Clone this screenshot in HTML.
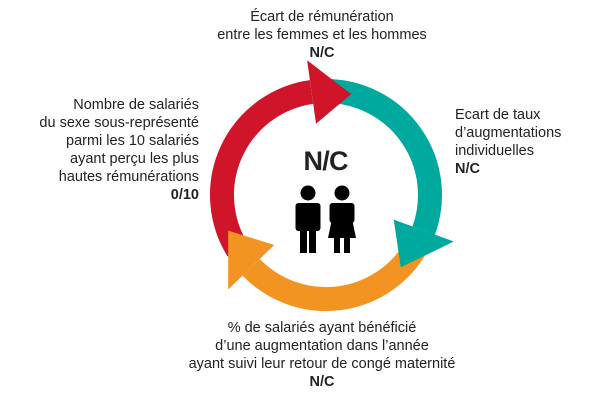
<!DOCTYPE html>
<html><head><meta charset="utf-8"><style>
body{margin:0;width:600px;height:400px;background:#fff;overflow:hidden;position:relative;font-family:"Liberation Sans","DejaVu Sans",sans-serif;color:#222;}
.t{position:absolute;font-size:14.5px;line-height:18px;}
b{font-weight:bold;}
</style></head><body>
<svg width="600" height="400" style="position:absolute;left:0;top:0">
<g fill="none" stroke-width="24">
<path d="M326 91 A104 104 0 0 1 423.7 230.6" stroke="#00a99d"/>
<path d="M416.1 247 A104 104 0 0 1 251.2 267.3" stroke="#f39321"/>
<path d="M237.8 250.1 A104 104 0 0 1 311.5 92" stroke="#d0142a"/>
</g>
<polygon points="316,123.7 307.1,60.3 351.2,94.1" fill="#d0142a"/>
<polygon points="393.7,219.6 453.8,241.5 400.8,267.3" fill="#00a99d"/>
<polygon points="274.2,245 228.2,289.5 228.2,230.6" fill="#f39321"/>
<text x="326" y="170" text-anchor="middle" font-family="Liberation Sans Narrow, Liberation Sans, sans-serif" font-weight="bold" font-size="27" fill="#222" textLength="45" lengthAdjust="spacing">N/C</text>
<g fill="#000">
<circle cx="308" cy="193" r="7.5"/>
<rect x="295.5" y="203" width="25" height="28" rx="3"/>
<rect x="300" y="226" width="7" height="27"/>
<rect x="309" y="226" width="7" height="27"/>
<circle cx="342" cy="193" r="7.5"/>
<rect x="329.5" y="203" width="25" height="20" rx="3"/>
<polygon points="333,214 351,214 356,238 328,238"/>
<rect x="334" y="236" width="6" height="17"/>
<rect x="344" y="236" width="6" height="17"/>
</g>
</svg>
<div class="t" style="left:122px;top:8px;width:400px;text-align:center">Écart de rémunération<br>entre les femmes et les hommes<br><b>N/C</b></div>
<div class="t" style="left:0;top:96px;width:199px;text-align:right">Nombre de salariés<br>du sexe sous-représenté<br>parmi les 10 salariés<br>ayant perçu les plus<br>hautes rémunérations<br><b>0/10</b></div>
<div class="t" style="left:455px;top:106px;width:145px">Ecart de taux<br>d’augmentations<br>individuelles<br><b>N/C</b></div>
<div class="t" style="left:72px;top:319px;width:500px;text-align:center">% de salariés ayant bénéficié<br>d’une augmentation dans l’année<br>ayant suivi leur retour de congé maternité<br><b>N/C</b></div>
</body></html>
